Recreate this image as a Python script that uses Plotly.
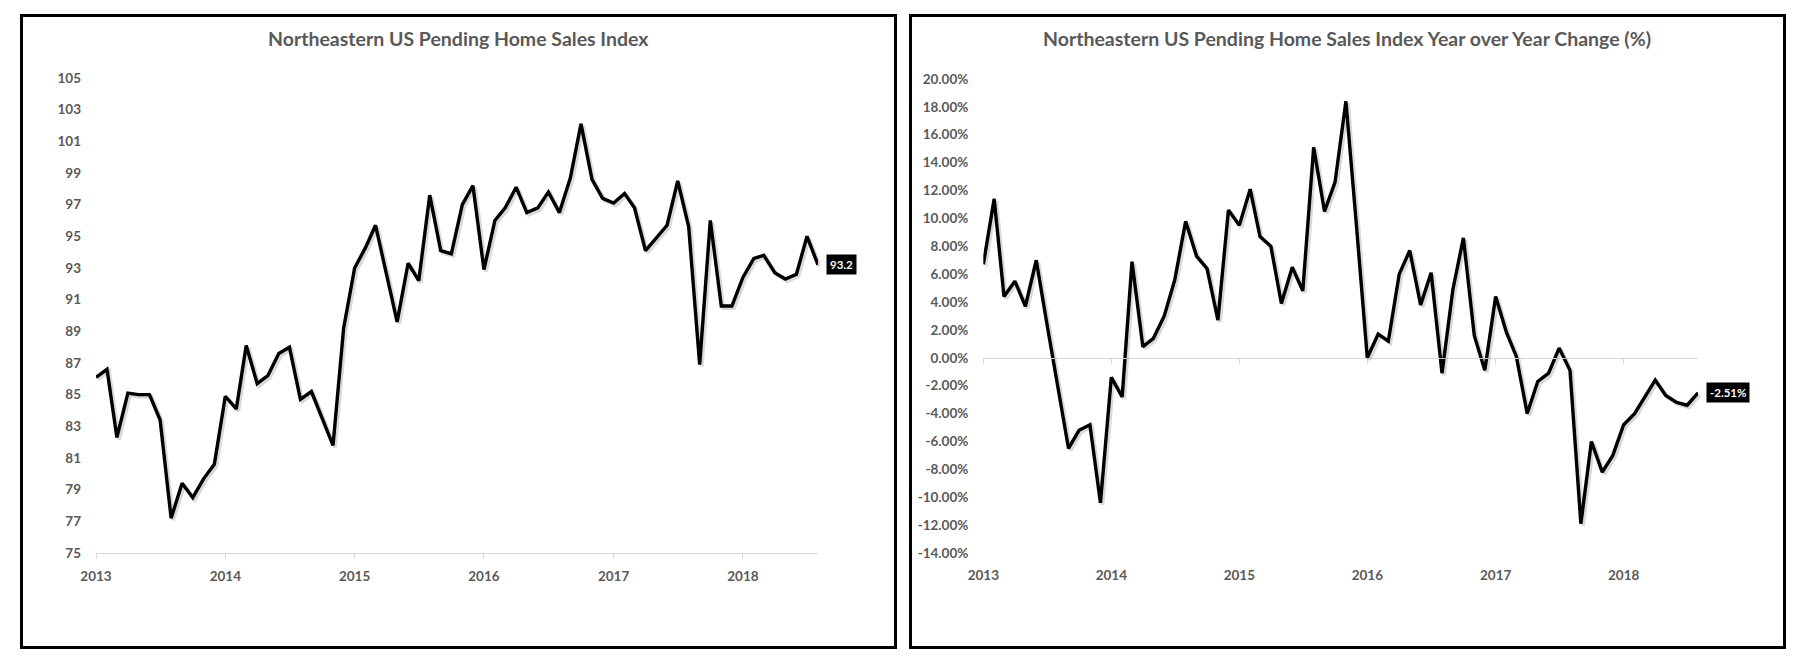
import pandas as pd
import plotly.graph_objects as go

# ---------------- data ----------------
months = pd.date_range("2013-01-01", periods=68, freq="MS")

index_values = [
    86.1, 86.6, 82.3, 85.1, 85.0, 85.0, 83.4, 77.2, 79.4, 78.5, 79.7, 80.6,
    84.9, 84.1, 88.1, 85.7, 86.2, 87.6, 88.0, 84.7, 85.2, 83.5, 81.8, 89.2,
    93.0, 94.3, 95.7, 92.6, 89.6, 93.3, 92.2, 97.6, 94.1, 93.9, 97.0, 98.2,
    92.9, 96.0, 96.8, 98.1, 96.5, 96.8, 97.8, 96.5, 98.7, 102.1, 98.6, 97.4,
    97.1, 97.7, 96.8, 94.1, 94.9, 95.7, 98.5, 95.6, 86.9, 96.0, 90.6, 90.6,
    92.4, 93.6, 93.8, 92.7, 92.3, 92.6, 95.0, 93.2,
]

yoy_change_pct = [
    6.7, 11.4, 4.4, 5.5, 3.7, 7.0, 2.5, -2.0, -6.5, -5.2, -4.8, -10.4,
    -1.4, -2.8, 6.9, 0.8, 1.4, 3.0, 5.6, 9.8, 7.3, 6.4, 2.7, 10.6,
    9.5, 12.1, 8.7, 8.0, 3.9, 6.5, 4.8, 15.1, 10.5, 12.6, 18.4, 9.5,
    0.0, 1.7, 1.2, 6.0, 7.7, 3.8, 6.1, -1.1, 4.9, 8.6, 1.6, -0.9,
    4.4, 1.8, 0.1, -4.0, -1.7, -1.1, 0.7, -0.9, -11.9, -6.0, -8.2, -7.0,
    -4.8, -4.0, -2.9, -1.6, -2.7, -3.2, -3.4, -2.51,
]

left_title = "Northeastern US Pending Home Sales Index"
right_title = "Northeastern US Pending Home Sales Index Year over Year Change (%)"

left_tickvals = list(range(75, 106, 2))
right_tickvals = list(range(-14, 21, 2))
right_ticktext = [f"{v:.2f}%" for v in right_tickvals]

# ---------------- layout helpers ----------------
W, H = 1810, 670


def fx(p):
    return p / W


def fy(p):
    return 1 - p / H


GREY_TXT = "#595959"
GRID = "#d9d9d9"
FONT = "Lato"
tick_font = dict(family=FONT, size=13.5, color=GREY_TXT, weight="bold")

L_X = (96, 818)
L_Y = (78, 553)
R_X = (983.3, 1698)
R_Y = (79, 553)
SH = 2  # shadow offset in px

x_range = [months[0], months[-1]]

fig = go.Figure()

# shadows
fig.add_trace(go.Scatter(x=months, y=index_values, mode="lines",
                         line=dict(color="rgba(0,0,0,0.15)", width=4),
                         xaxis="x3", yaxis="y3", hoverinfo="skip", showlegend=False))
fig.add_trace(go.Scatter(x=months, y=yoy_change_pct, mode="lines",
                         line=dict(color="rgba(0,0,0,0.15)", width=4),
                         xaxis="x4", yaxis="y4", hoverinfo="skip", showlegend=False))
# main lines
fig.add_trace(go.Scatter(x=months, y=index_values, mode="lines",
                         line=dict(color="black", width=3.4),
                         xaxis="x", yaxis="y", showlegend=False))
fig.add_trace(go.Scatter(x=months, y=yoy_change_pct, mode="lines",
                         line=dict(color="black", width=3.4),
                         xaxis="x2", yaxis="y2", showlegend=False))

r_lo, r_hi = right_tickvals[0], right_tickvals[-1]
r_dom = [fy(R_Y[1]), fy(R_Y[0])]
zero_pos = r_dom[0] + (0 - r_lo) / (r_hi - r_lo) * (r_dom[1] - r_dom[0])

common_x = dict(type="date", range=x_range, dtick="M12", tick0="2013-01-01",
                tickformat="%Y", showgrid=False, zeroline=False, tickfont=tick_font,
                automargin=False)

fig.update_layout(
    template="none",
    width=W, height=H,
    margin=dict(l=0, r=0, t=0, b=0, pad=0, autoexpand=False),
    paper_bgcolor="white", plot_bgcolor="rgba(0,0,0,0)",
    showlegend=False,
    xaxis=dict(**common_x, domain=[fx(L_X[0]), fx(L_X[1])], anchor="y",
               showline=True, linecolor=GRID, linewidth=1,
               ticks="outside", ticklen=5, tickcolor=GRID, ticklabelstandoff=6),
    yaxis=dict(domain=[fy(L_Y[1]), fy(L_Y[0])], range=[75, 105], anchor="x",
               tickvals=left_tickvals, showgrid=False, zeroline=False,
               showline=False, ticks="", tickfont=tick_font, ticklabelstandoff=14,
               automargin=False),
    xaxis2=dict(**common_x, domain=[fx(R_X[0]), fx(R_X[1])], anchor="y2",
                showline=False, ticks="", ticklabelstandoff=12),
    yaxis2=dict(domain=r_dom, range=[r_lo, r_hi], anchor="x2",
                tickvals=right_tickvals, ticktext=right_ticktext,
                showgrid=False, zeroline=False, showline=False, ticks="",
                tickfont=tick_font, ticklabelstandoff=14, automargin=False),
    xaxis3=dict(type="date", range=x_range, visible=False, automargin=False,
                domain=[fx(L_X[0] + SH), fx(L_X[1] + SH)], anchor="y3"),
    yaxis3=dict(range=[75, 105], visible=False, automargin=False,
                domain=[fy(L_Y[1] + SH), fy(L_Y[0] + SH)], anchor="x3"),
    xaxis4=dict(type="date", range=x_range, visible=False, automargin=False,
                domain=[fx(R_X[0] + SH), fx(R_X[1] + SH)], anchor="y4"),
    yaxis4=dict(range=[r_lo, r_hi], visible=False, automargin=False,
                domain=[fy(R_Y[1] + SH), fy(R_Y[0] + SH)], anchor="x4"),
    xaxis5=dict(type="date", range=x_range, dtick="M12", tick0="2013-01-01",
                overlaying="x2", anchor="free", position=zero_pos,
                showline=True, linecolor=GRID, linewidth=1, ticks="outside",
                ticklen=5, tickcolor=GRID, showticklabels=False, showgrid=False,
                zeroline=False, automargin=False),
)

# dummy trace to activate xaxis5
fig.add_trace(go.Scatter(x=[months[0]], y=[0], mode="markers", opacity=0,
                         xaxis="x5", yaxis="y2", hoverinfo="skip", showlegend=False))

# panel borders
for x0, x1 in [(21.5, 895.5), (910.5, 1784.5)]:
    fig.add_shape(type="rect", xref="paper", yref="paper",
                  x0=fx(x0), x1=fx(x1), y0=fy(647.5), y1=fy(15.5),
                  line=dict(color="black", width=3), fillcolor="rgba(0,0,0,0)")

# titles
title_font = dict(family=FONT, size=19.5, color=GREY_TXT, weight="bold")
fig.add_annotation(text=left_title, xref="paper", yref="paper", x=fx(458.5), y=fy(39),
                   xanchor="center", yanchor="middle", showarrow=False, font=title_font)
fig.add_annotation(text=right_title, xref="paper", yref="paper", x=fx(1347), y=fy(39),
                   xanchor="center", yanchor="middle", showarrow=False, font=title_font)

# end-point data labels
label_font = dict(family=FONT, size=11.5, color="white", weight="bold")
fig.add_annotation(text=f"{index_values[-1]:.1f}", x=months[-1], y=index_values[-1],
                   xref="x", yref="y", xanchor="left", yanchor="middle", xshift=8,
                   showarrow=False, bgcolor="black", borderpad=3, font=label_font)
fig.add_annotation(text=f"{yoy_change_pct[-1]:.2f}%", x=months[-1], y=yoy_change_pct[-1],
                   xref="x2", yref="y2", xanchor="left", yanchor="middle", xshift=8,
                   showarrow=False, bgcolor="black", borderpad=3, font=label_font)

fig.write_html("out.html", config={"displayModeBar": False},
               post_script="document.body.style.margin='0';")
